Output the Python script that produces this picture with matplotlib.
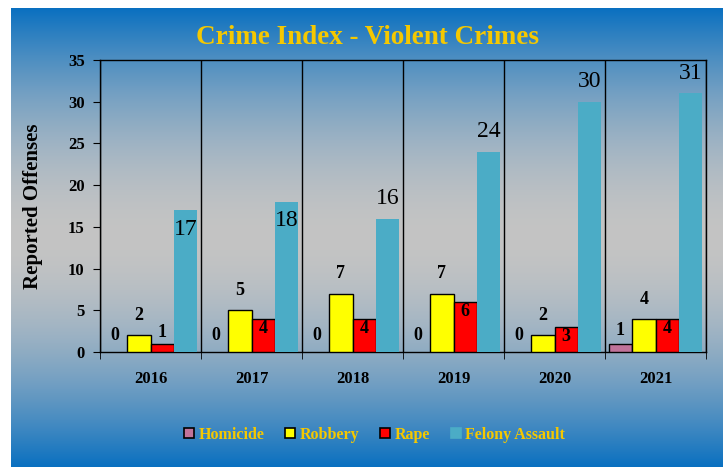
import matplotlib.pyplot as plt
from matplotlib.lines import Line2D
import numpy as np

# Data
years = ["2016", "2017", "2018", "2019", "2020", "2021"]
homicide = [0, 0, 0, 0, 0, 1]
robbery = [2, 5, 7, 7, 2, 4]
rape = [1, 4, 4, 6, 3, 4]
felony_assault = [17, 18, 16, 24, 30, 31]

series_names = ["Homicide", "Robbery", "Rape", "Felony Assault"]
colours = ["#c0739a", "#ffff00", "#ff0000", "#4bacc6"]
edges = ["black", "black", "black", "none"]

# where each label sits relative to the bar top
rape_pos = ["out", "in", "in", "in", "in", "in"]
assault_pos = ["in", "in", "out", "out", "out", "out"]

plt.rcParams["font.family"] = ["Liberation Serif", "DejaVu Serif"]

fig = plt.figure(figsize=(7.28, 4.67), dpi=100)
fig.patch.set_facecolor("white")

# gradient panel: blue -> grey -> blue
bg = fig.add_axes([11 / 728, 0, 712 / 728, 459 / 467])
bg.set_axis_off()
blue = np.array([10, 112, 192]) / 255
grey = np.array([196, 196, 196]) / 255
t = np.linspace(-1, 1, 400)
f = np.abs(t) ** 1.8
grad = grey[None, :] + f[:, None] * (blue - grey)[None, :]
bg.imshow(grad[:, None, :], aspect="auto", extent=[0, 1, 0, 1])
bg.set_xlim(0, 1)
bg.set_ylim(0, 1)

ax = fig.add_axes([100 / 728, 115 / 467, 606 / 728, 292 / 467])
ax.patch.set_alpha(0)

x = np.arange(len(years))
w = 0.2325
all_series = [homicide, robbery, rape, felony_assault]
for i, vals in enumerate(all_series):
    ec = [edges[i] if v > 0 else "none" for v in vals]
    ax.bar(x + (i - 1.5) * w, vals, w, color=colours[i],
           edgecolor=ec, linewidth=1 if edges[i] != "none" else 0,
           zorder=3)

small = dict(fontsize=13, fontweight="bold", ha="center", color="black")
for j in range(len(years)):
    xp = x[j] - 1.5 * w
    ax.annotate(str(homicide[j]), (xp, homicide[j]), xytext=(0, 6 if homicide[j] == 0 else 3),
                textcoords="offset points", va="bottom", **small)
    xp = x[j] - 0.5 * w
    ax.annotate(str(robbery[j]), (xp, robbery[j]), xytext=(0, 8),
                textcoords="offset points", va="bottom", **small)
    xp = x[j] + 0.5 * w
    if rape_pos[j] == "out":
        ax.annotate(str(rape[j]), (xp, rape[j]), xytext=(0, 2),
                    textcoords="offset points", va="bottom", **small)
    else:
        ax.annotate(str(rape[j]), (xp, rape[j]), xytext=(0, -1),
                    textcoords="offset points", va="top", zorder=4, **small)
    xp = x[j] + 1.5 * w
    if assault_pos[j] == "out":
        ax.annotate(str(felony_assault[j]), (xp, felony_assault[j]),
                    xytext=(0, 7), textcoords="offset points", va="bottom",
                    ha="center", fontsize=17, zorder=4)
    else:
        ax.annotate(str(felony_assault[j]), (xp, felony_assault[j]),
                    xytext=(0, -6), textcoords="offset points", va="top",
                    ha="center", fontsize=17, zorder=4)

ax.set_xlim(-0.5, len(years) - 0.5)
ax.set_ylim(0, 35)
ax.set_yticks(range(0, 36, 5))
ax.set_xticks(x)
ax.set_xticklabels(years, fontsize=12, fontweight="bold")
ax.set_xticks(np.arange(len(years) + 1) - 0.5, minor=True)
ax.tick_params(axis="x", which="major", length=0, pad=14)
ax.tick_params(axis="x", which="minor", length=5, direction="out", color="black")
ax.tick_params(axis="y", length=5, direction="out", color="black", pad=6)
for lab in ax.get_yticklabels():
    lab.set_fontsize(12)
    lab.set_fontweight("bold")
ax.grid(axis="x", which="minor", color="black", linewidth=1, zorder=1)
for s in ax.spines.values():
    s.set_color("black")
    s.set_linewidth(1)

ax.set_ylabel("Reported Offenses", fontsize=15, fontweight="bold", labelpad=18)

fig.text(368 / 728, 1 - 37 / 467, "Crime Index - Violent Crimes",
         fontsize=19.5, fontweight="bold", color="#f5c800",
         ha="center", va="center")

handles = [Line2D([], [], marker="s", linestyle="none", markersize=7,
                  markerfacecolor=colours[i],
                  markeredgecolor=edges[i] if edges[i] != "none" else colours[i],
                  markeredgewidth=1.2)
           for i in range(4)]
fig.legend(handles, series_names, loc="center", bbox_to_anchor=(374 / 728, 1 - 435 / 467),
           ncol=4, frameon=False, handlelength=0.8, handletextpad=0.2,
           columnspacing=1.2, prop={"family": "Liberation Serif", "weight": "bold", "size": 11.5},
           labelcolor="#f5c800")

fig.savefig("out.png", dpi=100, facecolor=fig.get_facecolor())
